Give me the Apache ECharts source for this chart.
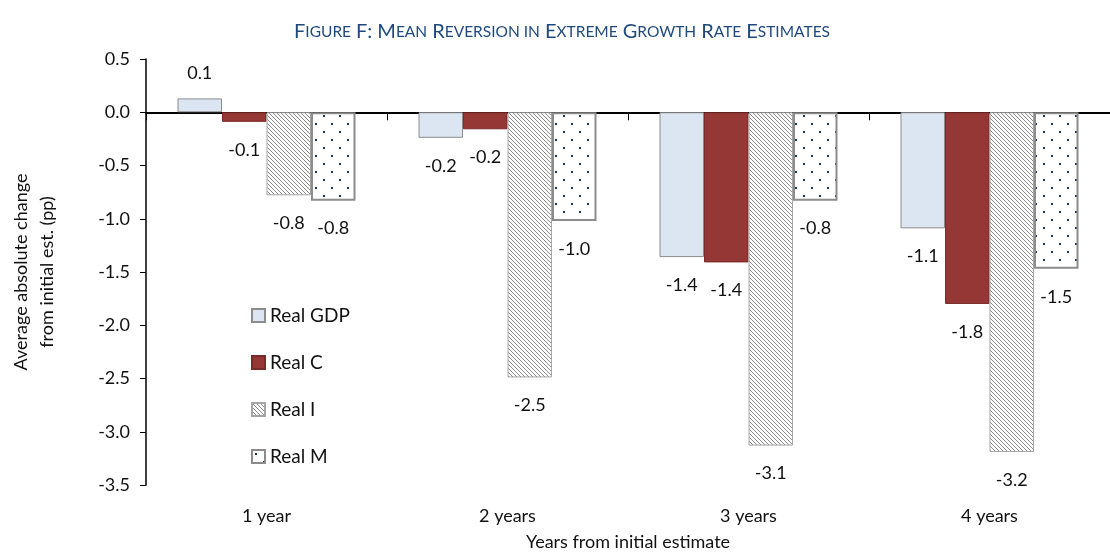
<!DOCTYPE html>
<html>
<head>
<meta charset="utf-8">
<script src="https://cdn.jsdelivr.net/npm/echarts@6/dist/echarts.min.js"></script>
<style>
  html, body { margin: 0; padding: 0; background: #fff; }
  #chart { width: 1110px; height: 556px; }
</style>
</head>
<body>
<div id="chart"></div>
<script>
const categories = ['1 year', '2 years', '3 years', '4 years'];
const seriesNames = ['Real GDP', 'Real C', 'Real I', 'Real M'];
const realGDP = [0.13, -0.24, -1.36, -1.09];
const realC = [-0.09, -0.16, -1.41, -1.80];
const realI = [-0.78, -2.49, -3.13, -3.19];
const realM = [-0.83, -1.02, -0.83, -1.47];
const yTicks = { min: -3.5, max: 0.5, interval: 0.5 };

const font = 'Lato, "Open Sans", sans-serif';

// hatch pattern for Real I: 1px stair diagonals, pitch 4
const hatch = document.createElement('canvas');
hatch.width = 4; hatch.height = 4;
(function () {
  const c = hatch.getContext('2d');
  c.fillStyle = '#fff';
  c.fillRect(0, 0, 4, 4);
  c.fillStyle = '#8a8a8a';
  for (let i = 0; i < 4; i++) c.fillRect(i, i, 1, 1);
})();

// dot pattern for Real M
const dots = document.createElement('canvas');
dots.width = 16; dots.height = 16;
(function () {
  const c = dots.getContext('2d');
  c.fillStyle = '#fff';
  c.fillRect(0, 0, 16, 16);
  c.fillStyle = '#17375e';
  c.fillRect(3, 3, 2, 2);
  c.fillRect(11, 11, 2, 2);
})();

const labelStyle = {
  show: true,
  position: 'bottom',
  distance: 19,
  fontFamily: font,
  fontSize: 18,
  color: '#111',
  formatter: p => p.value.toFixed(1)
};

function bar(name, data, itemStyle) {
  return {
    name: name,
    type: 'bar',
    data: data.map(v => ({
      value: v,
      label: v >= 0 ? { position: 'top', distance: 16 } : {}
    })),
    barWidth: 44.5,
    barGap: '0%',
    itemStyle: itemStyle,
    label: labelStyle
  };
}

const chart = echarts.init(document.getElementById('chart'));
chart.setOption({
  animation: false,
  backgroundColor: '#fff',
  title: {
    text: '{b|F}{s|IGURE} {b|F: M}{s|EAN} {b|R}{s|EVERSION IN} {b|E}{s|XTREME} {b|G}{s|ROWTH} {b|R}{s|ATE} {b|E}{s|STIMATES}',
    left: 557,
    textAlign: 'center',
    top: 17,
    textStyle: {
      fontWeight: 'normal',
      rich: {
        b: { fontFamily: font, fontSize: 20, fontWeight: 'normal', color: '#1f497d' },
        s: { fontFamily: font, fontSize: 15.5, fontWeight: 'normal', color: '#1f497d' }
      }
    }
  },
  legend: {
    orient: 'vertical',
    left: 246,
    top: 301,
    itemWidth: 13,
    itemHeight: 13,
    itemGap: 28,
    icon: 'rect',
    data: seriesNames,
    textStyle: { fontFamily: font, fontSize: 19, color: '#111' }
  },
  grid: { left: 146, right: -12, top: 59, bottom: 67 },
  xAxis: [
    {
      type: 'category',
      data: categories,
      axisLine: { onZero: true, lineStyle: { color: '#000', width: 2 } },
      axisTick: { show: true, length: 8, lineStyle: { color: '#000', width: 1 } },
      axisLabel: { show: false }
    },
    {
      type: 'category',
      data: categories,
      position: 'bottom',
      axisLine: { show: false, onZero: false },
      axisTick: { show: false },
      axisLabel: { margin: 22, fontFamily: font, fontSize: 18, color: '#111' },
      name: 'Years from initial estimate',
      nameLocation: 'middle',
      nameGap: 48,
      nameTextStyle: { fontFamily: font, fontSize: 18, color: '#111' }
    }
  ],
  yAxis: {
    type: 'value',
    min: yTicks.min,
    max: yTicks.max,
    interval: yTicks.interval,
    axisLine: { show: true, lineStyle: { color: '#000', width: 1.5 } },
    axisTick: { show: true, length: 6, lineStyle: { color: '#000' } },
    splitLine: { show: false },
    axisLabel: {
      margin: 16,
      fontFamily: font,
      fontSize: 18,
      color: '#111',
      formatter: v => v.toFixed(1)
    },
    name: 'Average absolute change\nfrom initial est. (pp)',
    nameLocation: 'middle',
    nameGap: 86,
    nameTextStyle: { fontFamily: font, fontSize: 18, color: '#111', lineHeight: 26 }
  },
  series: [
    bar('Real GDP', realGDP, { color: '#dce6f2', borderColor: '#8c8c8c', borderWidth: 1 }),
    bar('Real C', realC, { color: '#953735', borderColor: '#7a2b29', borderWidth: 1 }),
    bar('Real I', realI, { color: { image: hatch, repeat: 'repeat' }, borderColor: '#a6a6a6', borderWidth: 1 }),
    bar('Real M', realM, { color: { image: dots, repeat: 'repeat' }, borderColor: '#8c8c8c', borderWidth: 2 })
  ]
});
</script>
</body>
</html>
